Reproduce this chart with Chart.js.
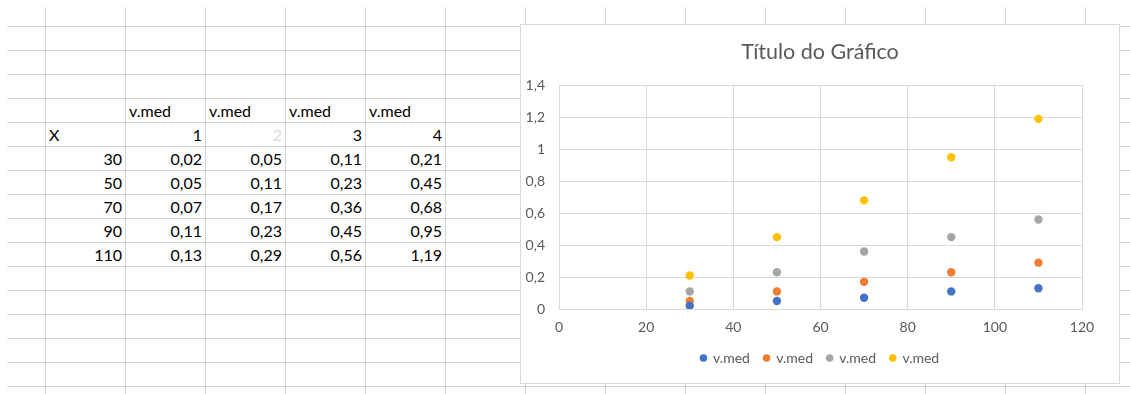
<!DOCTYPE html>
<html>
<head>
<meta charset="utf-8">
<script src="https://cdn.jsdelivr.net/npm/chart.js@4.4.0/dist/chart.umd.min.js"></script>
<style>
  html, body { margin: 0; padding: 0; background: #fff; }
  #sheet { position: absolute; left: 0; top: 0; width: 1130px; height: 394px; overflow: hidden; background: #fff; font-family: Lato, "Noto Sans", sans-serif; }
  .vl { position: absolute; width: 1px; background: #d4d4d4; }
  .hl { position: absolute; height: 1px; background: #d4d4d4; }
  .cell { position: absolute; height: 24px; line-height: 25px; font-size: 16px; color: #000; white-space: nowrap; }
  #chartBox { position: absolute; left: 520px; top: 24px; width: 600px; height: 360px; box-sizing: border-box; border: 1px solid #d9d9d9; background: #fff; }
</style>
</head>
<body>
<div id="sheet">
  <div id="chartBox"><canvas id="myChart" width="598" height="358"></canvas></div>
</div>
<script>
// data from the sheet
const xValues = [30, 50, 70, 90, 110];
const vmed1 = [0.02, 0.05, 0.07, 0.11, 0.13];
const vmed2 = [0.05, 0.11, 0.17, 0.23, 0.29];
const vmed3 = [0.11, 0.23, 0.36, 0.45, 0.56];
const vmed4 = [0.21, 0.45, 0.68, 0.95, 1.19];
const seriesNames = ['v.med', 'v.med', 'v.med', 'v.med'];
const seriesNums = [1, 2, 3, 4];
const xHeader = 'X';
const chartTitle = 'Título do Gráfico';
const xTicks = [0, 20, 40, 60, 80, 100, 120];
const yTicks = [0, 0.2, 0.4, 0.6, 0.8, 1, 1.2, 1.4];

const allSeries = [vmed1, vmed2, vmed3, vmed4];
const colors = ['#4472C4', '#ED7D31', '#A5A5A5', '#FFC000'];

function comma(v) {
    return String(v).replace('.', ',');
}

// spreadsheet grid
const sheet = document.getElementById('sheet');
const chartBox = document.getElementById('chartBox');
for (let x = 45; x < 1130; x += 80) {
    const d = document.createElement('div');
    d.className = 'vl';
    d.style.left = x + 'px';
    d.style.top = '7px';
    d.style.height = '387px';
    sheet.insertBefore(d, chartBox);
}
for (let y = 26; y < 394; y += 24) {
    const d = document.createElement('div');
    d.className = 'hl';
    d.style.top = y + 'px';
    d.style.left = '7px';
    d.style.width = '1123px';
    sheet.insertBefore(d, chartBox);
}

function addCell(col, row, text, align, color) {
    const d = document.createElement('div');
    d.className = 'cell';
    d.style.left = (46 + col * 80 + 3) + 'px';
    d.style.width = '73px';
    d.style.top = (98 + row * 24) + 'px';
    d.style.textAlign = align;
    if (color) d.style.color = color;
    d.textContent = text;
    sheet.insertBefore(d, chartBox);
}

seriesNames.forEach(function (name, i) {
    addCell(i + 1, 0, name, 'left');
});
addCell(0, 1, xHeader, 'left');
seriesNums.forEach(function (n, i) {
    addCell(i + 1, 1, String(n), 'right', n === 2 ? '#dcdcdc' : null);
});
xValues.forEach(function (x, r) {
    addCell(0, r + 2, String(x), 'right');
    allSeries.forEach(function (s, i) {
        addCell(i + 1, r + 2, comma(s[r].toFixed(2)), 'right');
    });
});

// chart
const ctx = document.getElementById('myChart').getContext('2d');
const fontFamily = 'Lato, "Noto Sans", sans-serif';
const config = {
    type: 'scatter',
    data: {
        datasets: allSeries.map(function (s, i) {
            return {
                label: seriesNames[i],
                data: xValues.map(function (x, j) { return { x: x, y: s[j] }; }),
                backgroundColor: colors[i],
                borderColor: colors[i],
                pointRadius: 4.2,
                pointHoverRadius: 4.2,
                borderWidth: 0
            };
        })
    },
    options: {
        responsive: false,
        animation: false,
        layout: { padding: { left: 0, right: 0, top: 0, bottom: 8 } },
        plugins: {
            title: {
                display: true,
                text: chartTitle,
                color: '#595959',
                font: { family: fontFamily, size: 21.5, weight: 'normal' },
                padding: { top: 14, bottom: 20.5 }
            },
            legend: {
                position: 'bottom',
                labels: {
                    usePointStyle: true,
                    pointStyle: 'circle',
                    boxWidth: 5.3,
                    boxHeight: 5.3,
                    padding: 14,
                    color: '#595959',
                    font: { family: fontFamily, size: 14 }
                }
            },
            tooltip: { enabled: false }
        },
        scales: {
            x: {
                type: 'linear',
                min: xTicks[0],
                max: xTicks[xTicks.length - 1],
                afterBuildTicks: function (scale) {
                    scale.ticks = xTicks.map(function (v) { return { value: v }; });
                },
                afterFit: function (scale) { scale.height = 28; },
                ticks: {
                    color: '#595959',
                    padding: 10,
                    font: { family: fontFamily, size: 14 }
                },
                grid: { color: '#d9d9d9', drawTicks: false },
                border: { color: '#d9d9d9' }
            },
            y: {
                min: yTicks[0],
                max: yTicks[yTicks.length - 1],
                afterBuildTicks: function (scale) {
                    scale.ticks = yTicks.map(function (v) { return { value: v }; });
                },
                afterFit: function (scale) { scale.width = 38; },
                ticks: {
                    color: '#595959',
                    padding: 14,
                    font: { family: fontFamily, size: 14 },
                    callback: function (v) { return comma(Math.round(v * 10) / 10); }
                },
                grid: { color: '#d9d9d9', drawTicks: false },
                border: { color: '#d9d9d9' }
            },
            // empty right-hand space, keeps title and legend centred on the whole chart
            yRight: {
                position: 'right',
                display: true,
                min: 0,
                max: 1,
                afterFit: function (scale) { scale.width = 37; },
                ticks: { display: false },
                grid: { display: false },
                border: { display: false }
            }
        }
    }
};
const myChart = new Chart(ctx, config);
</script>
</body>
</html>
